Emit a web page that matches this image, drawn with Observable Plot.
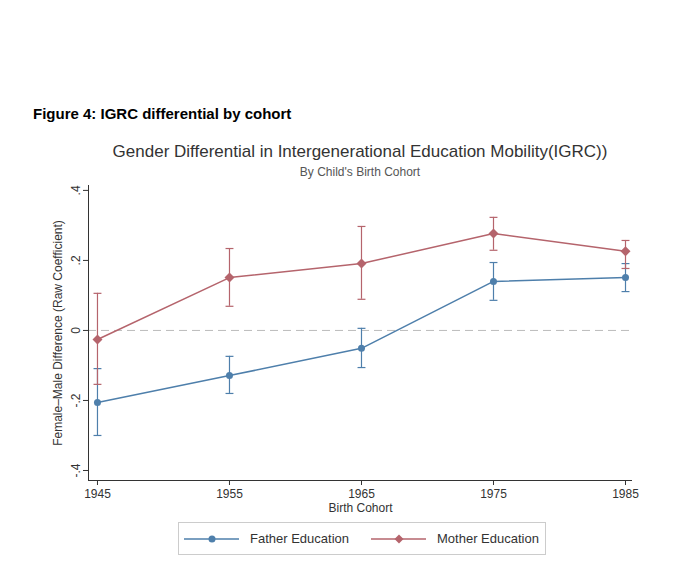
<!DOCTYPE html>
<html><head><meta charset="utf-8">
<script src="https://cdn.jsdelivr.net/npm/d3@7"></script>
<script src="https://cdn.jsdelivr.net/npm/@observablehq/plot@0.6"></script>
<style>
body{margin:0;width:680px;height:569px;position:relative;font-family:"Liberation Sans",Arial,sans-serif;background:#fff}
.abs{position:absolute}
</style></head><body>
<div class="abs" style="left:33px;top:105px;font-weight:bold;font-size:15px;">Figure 4: IGRC differential by cohort</div>
<div class="abs" style="left:0;width:720px;top:142px;text-align:center;font-size:17px;color:#333">Gender Differential in Intergenerational Education Mobility(IGRC))</div>
<div class="abs" style="left:0;width:720px;top:165px;text-align:center;font-size:12px;color:#555">By Child's Birth Cohort</div>
<div id="chart" class="abs" style="left:0;top:0"></div>
<div class="abs" style="left:178px;top:522px;width:366px;height:31px;border:1px solid #ccc;font-size:13px;color:#333">
 <svg class="abs" style="left:0;top:0" width="366" height="31">
  <line x1="5" x2="60" y1="16" y2="16" stroke="#4e7fab" stroke-width="1.5"/><circle cx="33" cy="16" r="3.5" fill="#4e7fab"/>
  <line x1="192" x2="247" y1="16" y2="16" stroke="#b5646c" stroke-width="1.5"/><path d="M220 11.5L224.5 16L220 20.5L215.5 16Z" fill="#b5646c"/>
 </svg>
 <span class="abs" style="left:71px;top:8px">Father Education</span>
 <span class="abs" style="left:258px;top:8px">Mother Education</span>
</div>
<script>
const cohorts=[1945,1955,1965,1975,1985];
const fatherEst=[-0.206,-0.129,-0.051,0.14,0.151];
const fatherLo=[-0.30,-0.18,-0.106,0.086,0.111];
const fatherHi=[-0.109,-0.074,0.006,0.194,0.191];
const motherEst=[-0.026,0.151,0.191,0.277,0.226];
const motherLo=[-0.154,0.069,0.089,0.229,0.177];
const motherHi=[0.106,0.234,0.297,0.323,0.257];
const yTicks=[-0.4,-0.2,0,0.2,0.4];
const yTickLabels=["-.4","-.2","0",".2",".4"];
const fc="#4e7fab", mc="#b5646c";
const F=cohorts.map((c,i)=>({c,e:fatherEst[i],lo:fatherLo[i],hi:fatherHi[i]}));
const M=cohorts.map((c,i)=>({c,e:motherEst[i],lo:motherLo[i],hi:motherHi[i]}));
const x0=1944.32,y0=-0.4286;
const capLines=(d,col)=>["lo","hi"].map(k=>Plot.link(d,{x1:d=>d.c-0.3,x2:d=>d.c+0.3,y1:k,y2:k,stroke:col,strokeWidth:1.2}));
const plot=Plot.plot({
 width:680,height:569,marginLeft:88,marginRight:48,marginTop:185,marginBottom:89,
 style:{fontFamily:"Liberation Sans, Arial, sans-serif",fontSize:"12px",color:"#333"},
 x:{domain:[x0,1985.53],ticks:cohorts,tickFormat:d=>String(d),label:null,tickSize:5},
 y:{domain:[y0,0.414],ticks:yTicks,tickFormat:d=>yTickLabels[yTicks.indexOf(d)]??"",tickRotate:-90,label:null,tickSize:5},
 marks:[
  Plot.ruleY([0],{stroke:"#bbb",strokeDasharray:"8,5"}),
  Plot.ruleX([x0],{stroke:"#333"}),
  Plot.ruleY([y0],{stroke:"#333"}),
  Plot.ruleX(F,{x:"c",y1:"lo",y2:"hi",stroke:fc,strokeWidth:1.2}),
  ...capLines(F,fc),
  Plot.ruleX(M,{x:"c",y1:"lo",y2:"hi",stroke:mc,strokeWidth:1.2}),
  ...capLines(M,mc),
  Plot.line(F,{x:"c",y:"e",stroke:fc,strokeWidth:1.5}),
  Plot.line(M,{x:"c",y:"e",stroke:mc,strokeWidth:1.5}),
  Plot.dot(F,{x:"c",y:"e",fill:fc,r:3.5}),
  Plot.dot(M,{x:"c",y:"e",fill:mc,r:4.5,symbol:"diamond2"}),
  Plot.text(["Birth Cohort"],{frameAnchor:"bottom",textAnchor:"middle",lineAnchor:"middle",dy:28,fontSize:12}),
  Plot.text(["Female–Male Difference (Raw Coefficient)"],{frameAnchor:"left",textAnchor:"middle",lineAnchor:"middle",dx:-30,rotate:-90,fontSize:12})
 ]
});
document.getElementById("chart").append(plot);
</script>
</body></html>
